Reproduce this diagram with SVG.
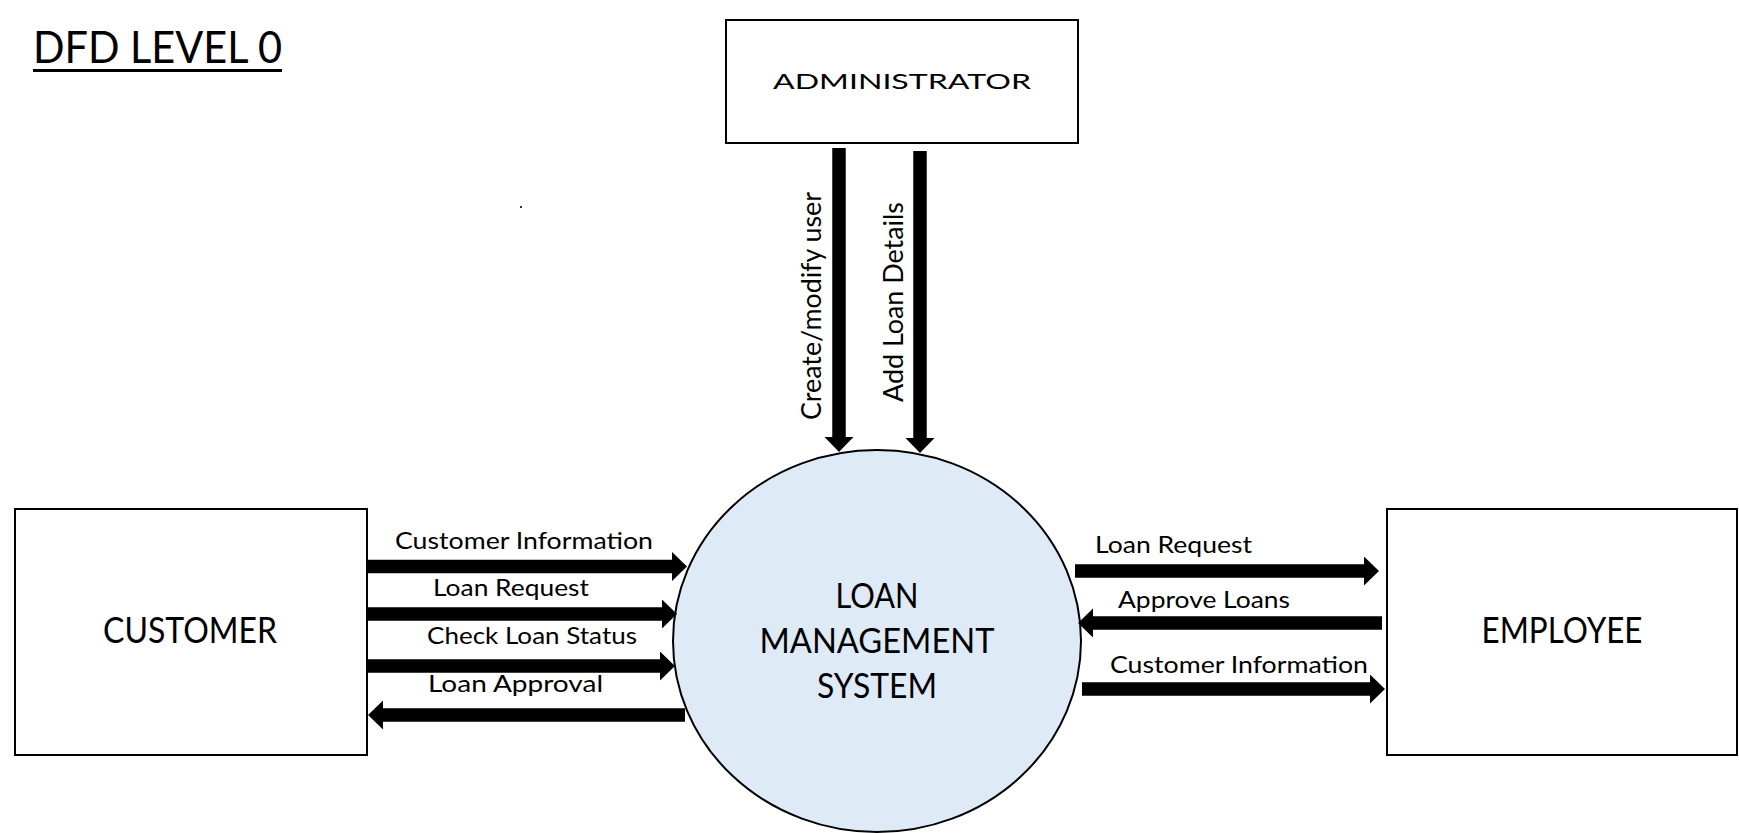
<svg xmlns="http://www.w3.org/2000/svg" width="1739" height="833" viewBox="0 0 1739 833">
<style>
.box{fill:#fff;stroke:#000;stroke-width:2}
.proc{fill:#deebf7;stroke:#000;stroke-width:2}
.flow{stroke:#000;stroke-width:13.5;fill:none;marker-end:url(#head)}
.t{font-family:Lato,"Open Sans","Liberation Sans",sans-serif;fill:#000}
.lbl{font-size:24px}
.vlbl{font-size:27px}
.ent{font-size:36px;text-anchor:middle}
.sys{font-size:34px;text-anchor:middle}
</style>
<defs>
<marker id="head" markerUnits="userSpaceOnUse" markerWidth="16" markerHeight="30" refX="0" refY="14.5" orient="auto" viewBox="0 0 16 30">
<path d="M0,0 L15,14.5 L0,29 z" fill="#000"/>
</marker>
</defs>
<rect width="1739" height="833" fill="#fff"/>
<g id="title">
<text class="t" x="33" y="63" font-size="44" textLength="249" lengthAdjust="spacingAndGlyphs">DFD LEVEL 0</text>
<rect x="33" y="69" width="249" height="3" fill="#000"/>
</g>
<rect x="520" y="206" width="2" height="2" fill="#333"/>
<g id="administrator">
<rect class="box" x="726" y="20" width="352" height="123" stroke-width="1.5"/>
<text class="t" x="773" y="89" font-size="21" textLength="258" lengthAdjust="spacingAndGlyphs">ADMINISTRATOR</text>
</g>
<g id="customer">
<rect class="box" x="15" y="509" width="352" height="246"/>
<text class="t ent" x="190" y="643" textLength="174" lengthAdjust="spacingAndGlyphs">CUSTOMER</text>
</g>
<g id="employee">
<rect class="box" x="1387" y="509" width="350" height="246"/>
<text class="t ent" x="1562" y="643" textLength="161" lengthAdjust="spacingAndGlyphs">EMPLOYEE</text>
</g>
<g id="loan-management-system">
<ellipse class="proc" cx="877" cy="641" rx="204" ry="191"/>
<text class="t sys" x="877" y="608" textLength="83" lengthAdjust="spacingAndGlyphs">LOAN</text>
<text class="t sys" x="877" y="653" textLength="235" lengthAdjust="spacingAndGlyphs">MANAGEMENT</text>
<text class="t sys" x="877" y="698" textLength="120" lengthAdjust="spacingAndGlyphs">SYSTEM</text>
</g>
<g id="connectors">
<line class="flow" x1="839" y1="148" x2="839" y2="437" stroke-width="14"/>
<line class="flow" x1="920" y1="151" x2="920" y2="438" stroke-width="14"/>
<text class="t vlbl" transform="translate(821,420) rotate(-90)" textLength="228" lengthAdjust="spacingAndGlyphs">Create/modify user</text>
<text class="t vlbl" transform="translate(903,402) rotate(-90)" textLength="200" lengthAdjust="spacingAndGlyphs">Add Loan Details</text>

<line class="flow" x1="368" y1="566.5" x2="672" y2="566.5"/>
<text class="t lbl" x="395" y="549" textLength="258" lengthAdjust="spacingAndGlyphs">Customer Information</text>
<line class="flow" x1="368" y1="614" x2="662" y2="614"/>
<text class="t lbl" x="433" y="596" textLength="156" lengthAdjust="spacingAndGlyphs">Loan Request</text>
<line class="flow" x1="368" y1="666" x2="660" y2="666"/>
<text class="t lbl" x="427" y="644" textLength="210" lengthAdjust="spacingAndGlyphs">Check Loan Status</text>
<line class="flow" x1="685" y1="715" x2="383" y2="715"/>
<text class="t lbl" x="428" y="692" textLength="175" lengthAdjust="spacingAndGlyphs">Loan Approval</text>

<line class="flow" x1="1075" y1="571" x2="1364" y2="571"/>
<text class="t lbl" x="1095" y="553" textLength="157" lengthAdjust="spacingAndGlyphs">Loan Request</text>
<line class="flow" x1="1382" y1="623" x2="1093" y2="623"/>
<text class="t lbl" x="1118" y="608" textLength="172" lengthAdjust="spacingAndGlyphs">Approve Loans</text>
<line class="flow" x1="1082" y1="689" x2="1370" y2="689"/>
<text class="t lbl" x="1110" y="673" textLength="258" lengthAdjust="spacingAndGlyphs">Customer Information</text>
</g>
</svg>
